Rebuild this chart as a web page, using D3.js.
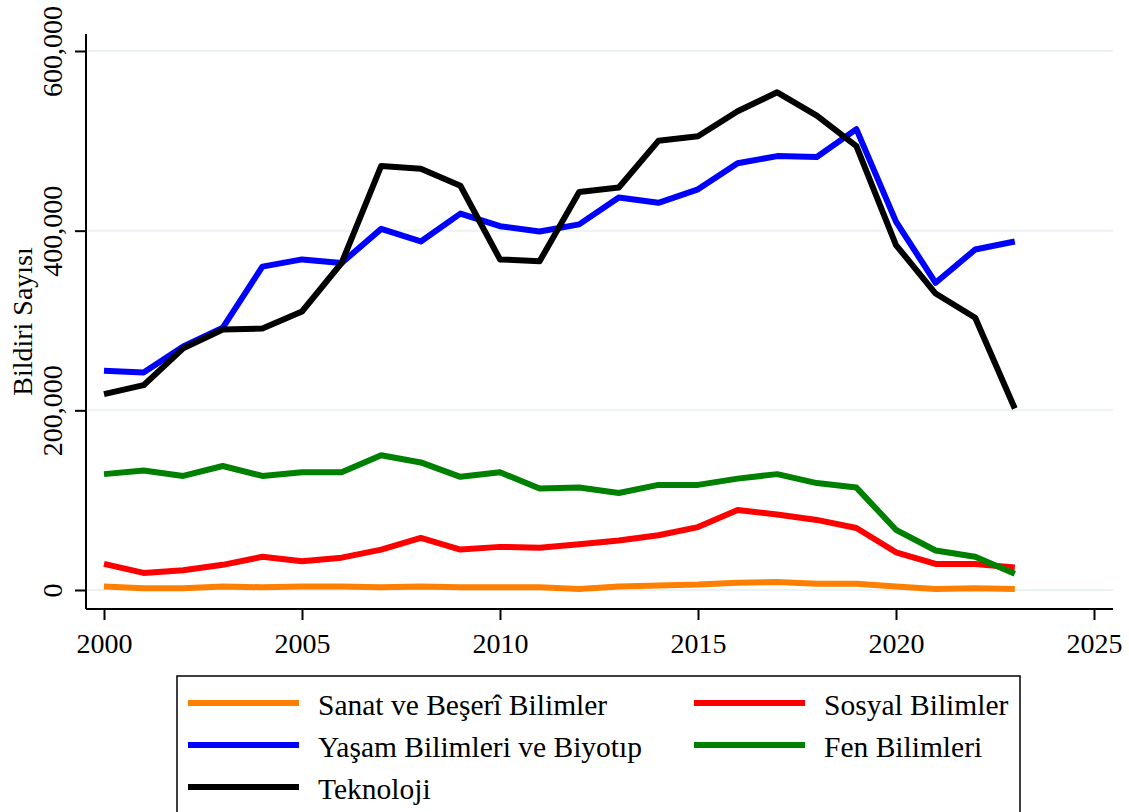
<!DOCTYPE html>
<meta charset="utf-8">
<style>
body { margin: 0; background: #fff; }
svg text { font-family: "Liberation Serif", "Times New Roman", serif; fill: #000; }
.line { fill: none; stroke-width: 6px; stroke-linejoin: round; }
.grid line { stroke: #eaf2f3; stroke-width: 2px; }
</style>
<svg width="1129" height="812"></svg>
<script src="https://d3js.org/d3.v7.min.js"></script>
<script>

var years = d3.range(2000, 2024);

var sanat  = [4000, 2000, 2000, 4000, 3000, 4000, 4000, 3000, 4000, 3000, 3000, 3000, 1000, 4000, 5000, 6000, 8000, 9000, 7000, 7000, 4000, 1000, 2000, 1000];
var sosyal = [29000, 19000, 22000, 28000, 37000, 32000, 36000, 45000, 58000, 45000, 48000, 47000, 51000, 55000, 61000, 70000, 89000, 84000, 78000, 69000, 42000, 29000, 29000, 25000];
var yasam  = [244000, 242000, 271000, 292000, 360000, 368000, 364000, 402000, 388000, 419000, 405000, 399000, 407000, 437000, 431000, 446000, 475000, 483000, 482000, 513000, 410000, 342000, 379000, 388000];
var fen    = [129000, 133000, 127000, 138000, 127000, 131000, 131000, 150000, 142000, 126000, 131000, 113000, 114000, 108000, 117000, 117000, 124000, 129000, 119000, 114000, 67000, 44000, 37000, 18000];
var tekno  = [218000, 228000, 269000, 290000, 291000, 310000, 364000, 472000, 469000, 450000, 368000, 366000, 443000, 448000, 500000, 505000, 533000, 554000, 528000, 494000, 384000, 330000, 303000, 202000];

var seriesNames  = ["Sanat ve Beşerî Bilimler", "Sosyal Bilimler", "Yaşam Bilimleri ve Biyotıp", "Fen Bilimleri", "Teknoloji"];
var seriesColors = ["#ff8000", "#ff0000", "#0000ff", "#008000", "#000000"];
var seriesValues = [sanat, sosyal, yasam, fen, tekno];

var xTicks = [2000, 2005, 2010, 2015, 2020, 2025];
var yTicks = [0, 200000, 400000, 600000];

var svg = d3.select("svg");

var x = d3.scaleLinear().domain([2000, 2025]).range([104, 1094]);
var y = d3.scaleLinear().domain([0, 600000]).range([590, 51]);

var plotLeft = 86, plotRight = 1113, plotTop = 34, plotBottom = 609;

// gridlines
svg.append("g").attr("class", "grid")
  .selectAll("line").data(yTicks).enter().append("line")
  .attr("x1", plotLeft + 2).attr("x2", plotRight)
  .attr("y1", function(d) { return y(d); })
  .attr("y2", function(d) { return y(d); });

// lines
var line = d3.line()
  .x(function(d, i) { return x(years[i]); })
  .y(function(d) { return y(d); });

svg.selectAll(".line")
  .data(seriesValues)
  .enter().append("path")
  .attr("class", "line")
  .attr("stroke", function(d, i) { return seriesColors[i]; })
  .attr("d", line);

// x axis
var xAxis = svg.append("g")
  .attr("transform", "translate(0," + plotBottom + ")")
  .call(d3.axisBottom(x).tickValues(xTicks).tickFormat(d3.format("d")).tickSize(11).tickPadding(13));
xAxis.select(".domain").remove();
xAxis.selectAll(".tick line").attr("stroke", "#000").attr("stroke-width", 2);
xAxis.selectAll("text").style("font-size", "28px");
xAxis.append("line")
  .attr("x1", plotLeft).attr("x2", plotRight)
  .attr("stroke", "#000").attr("stroke-width", 2);

// y axis
var yAxis = svg.append("g")
  .attr("transform", "translate(" + plotLeft + ",0)")
  .call(d3.axisLeft(y).tickValues(yTicks).tickFormat(d3.format(",")).tickSize(11));
yAxis.select(".domain").remove();
yAxis.selectAll(".tick line").attr("stroke", "#000").attr("stroke-width", 2);
yAxis.selectAll("text")
  .style("font-size", "28px")
  .attr("text-anchor", "middle")
  .attr("transform", "rotate(-90)")
  .attr("x", 0).attr("y", -24).attr("dy", 0);
yAxis.append("line")
  .attr("y1", plotTop).attr("y2", plotBottom)
  .attr("stroke", "#000").attr("stroke-width", 2);

svg.append("text")
  .attr("transform", "translate(32," + ((plotTop + plotBottom) / 2) + ") rotate(-90)")
  .attr("text-anchor", "middle")
  .style("font-size", "28px")
  .text("Bildiri Sayısı");

// legend
var legend = svg.append("g");
legend.append("rect")
  .attr("x", 177).attr("y", 676).attr("width", 843).attr("height", 160)
  .attr("fill", "#fff").attr("stroke", "#000").attr("stroke-width", 1.5);

var item = legend.selectAll(".item")
  .data(seriesNames).enter().append("g")
  .attr("transform", function(d, i) {
    return "translate(" + (i % 2 === 0 ? 188 : 694) + "," + (703 + Math.floor(i / 2) * 42) + ")";
  });
item.append("line")
  .attr("x1", 0).attr("x2", 111)
  .attr("stroke", function(d) { return seriesColors[seriesNames.indexOf(d)]; })
  .attr("stroke-width", 6);
item.append("text")
  .attr("x", 130).attr("dy", "0.4em")
  .style("font-size", "29.5px")
  .text(function(d) { return d; });

</script>
